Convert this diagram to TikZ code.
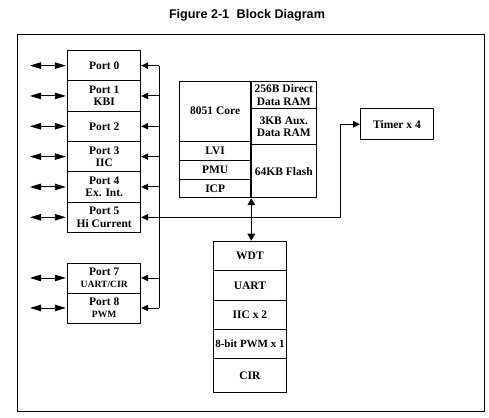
\documentclass[tikz,border=0pt]{standalone}
\usepackage{fontspec}
\setmainfont{Liberation Serif}
\setsansfont{Liberation Sans}
\usetikzlibrary{arrows.meta}
\begin{document}
\begin{tikzpicture}[x=1pt,y=-1pt,
  every path/.style={line width=0.9pt},
  cell/.style={draw, line width=0.9pt, inner sep=0pt, align=center, anchor=north west,
    font=\bfseries\fontsize{11.5}{12.5}\selectfont},
  portbox/.style={cell, minimum width=73pt, minimum height=30.33pt},
  bustip/.style={-{Triangle[length=7pt,width=6.5pt]}},
  dbltip/.style={{Triangle[length=11pt,width=6.5pt]}-{Triangle[length=11pt,width=6.5pt]}},
  coretip/.style={{Triangle[length=7pt,width=7.5pt]}-{Triangle[length=7pt,width=7.5pt]}}
]
\useasboundingbox (0,0) rectangle (489,417);

% title
\node[font=\sffamily\bfseries\fontsize{12.6}{14}\selectfont] (title) at (247,15) {Figure 2-1\hspace{4pt} Block Diagram};

% outer frame
\draw (17,34) rectangle (484,411.3);

% ports
\node[portbox] (p0) at (67.3,50) {Port 0};
\node[portbox] (p1) at (67.3,80.33) {Port 1\\KBI};
\node[portbox] (p2) at (67.3,110.67) {Port 2};
\node[portbox] (p3) at (67.3,141) {Port 3\\IIC};
\node[portbox] (p4) at (67.3,171.33) {Port 4\\Ex. Int.};
\node[portbox] (p5) at (67.3,201.67) {Port 5\\Hi Current};
\node[portbox, minimum height=30pt] (p7) at (67.3,262.5) {Port 7\\{\fontsize{9.6}{11}\selectfont UART/CIR}};
\node[portbox, minimum height=30pt] (p8) at (67.3,292.5) {Port 8\\{\fontsize{9.6}{11}\selectfont PWM}};

% core block
\node[cell, minimum width=71.4pt, minimum height=60pt] (core) at (179,80.7) {8051 Core};
\node[cell, minimum width=71.4pt, minimum height=19.3pt] (lvi) at (179,140.7) {LVI};
\node[cell, minimum width=71.4pt, minimum height=19pt] (pmu) at (179,160) {PMU};
\node[cell, minimum width=71.4pt, minimum height=18.3pt] (icp) at (179,179) {ICP};
\node[cell, minimum width=65.3pt, minimum height=27.6pt] (ram1) at (250.7,80.7) {256B Direct\\Data RAM};
\node[cell, minimum width=65.3pt, minimum height=36pt] (ram2) at (250.7,108.3) {3KB Aux.\\Data RAM};
\node[cell, minimum width=65.3pt, minimum height=53pt] (flash) at (250.7,144.3) {64KB Flash};

% peripherals
\node[cell, minimum width=73pt, minimum height=29.3pt] (wdt) at (213,240.7) {WDT};
\node[cell, minimum width=73pt, minimum height=30pt] (uart) at (213,270) {UART};
\node[cell, minimum width=73pt, minimum height=29.3pt] (iic) at (213,300) {IIC x 2};
\node[cell, minimum width=73pt, minimum height=29pt, font=\bfseries\fontsize{11}{12.5}\selectfont] (pwm) at (213,329.3) {8-bit PWM x 1};
\node[cell, minimum width=73pt, minimum height=33.4pt] (cir) at (213,358.3) {CIR};

% timer
\node[cell, minimum width=73pt, minimum height=31pt] (timer) at (360,108.3) {Timer x 4};

% bus
\coordinate (bus) at (159,0);
\coordinate (tj) at (340,0);
\coordinate (lft) at (30,0);
\draw (bus |- p0.east) -- (bus |- p8.east);
\foreach \p in {p0,p1,p2,p3,p4,p5,p7,p8}{
  \draw[bustip] (bus |- \p.east) -- (\p.east);
  \draw[dbltip, shorten >=1.5pt] (lft |- \p.west) -- (\p.west);
}
\draw[bustip] (bus |- p5.east) -- (tj |- p5.east) |- (timer.west);

% core <-> peripherals
\draw[coretip] (icp.south east) -- (icp.south east |- wdt.north);
\end{tikzpicture}
\end{document}
